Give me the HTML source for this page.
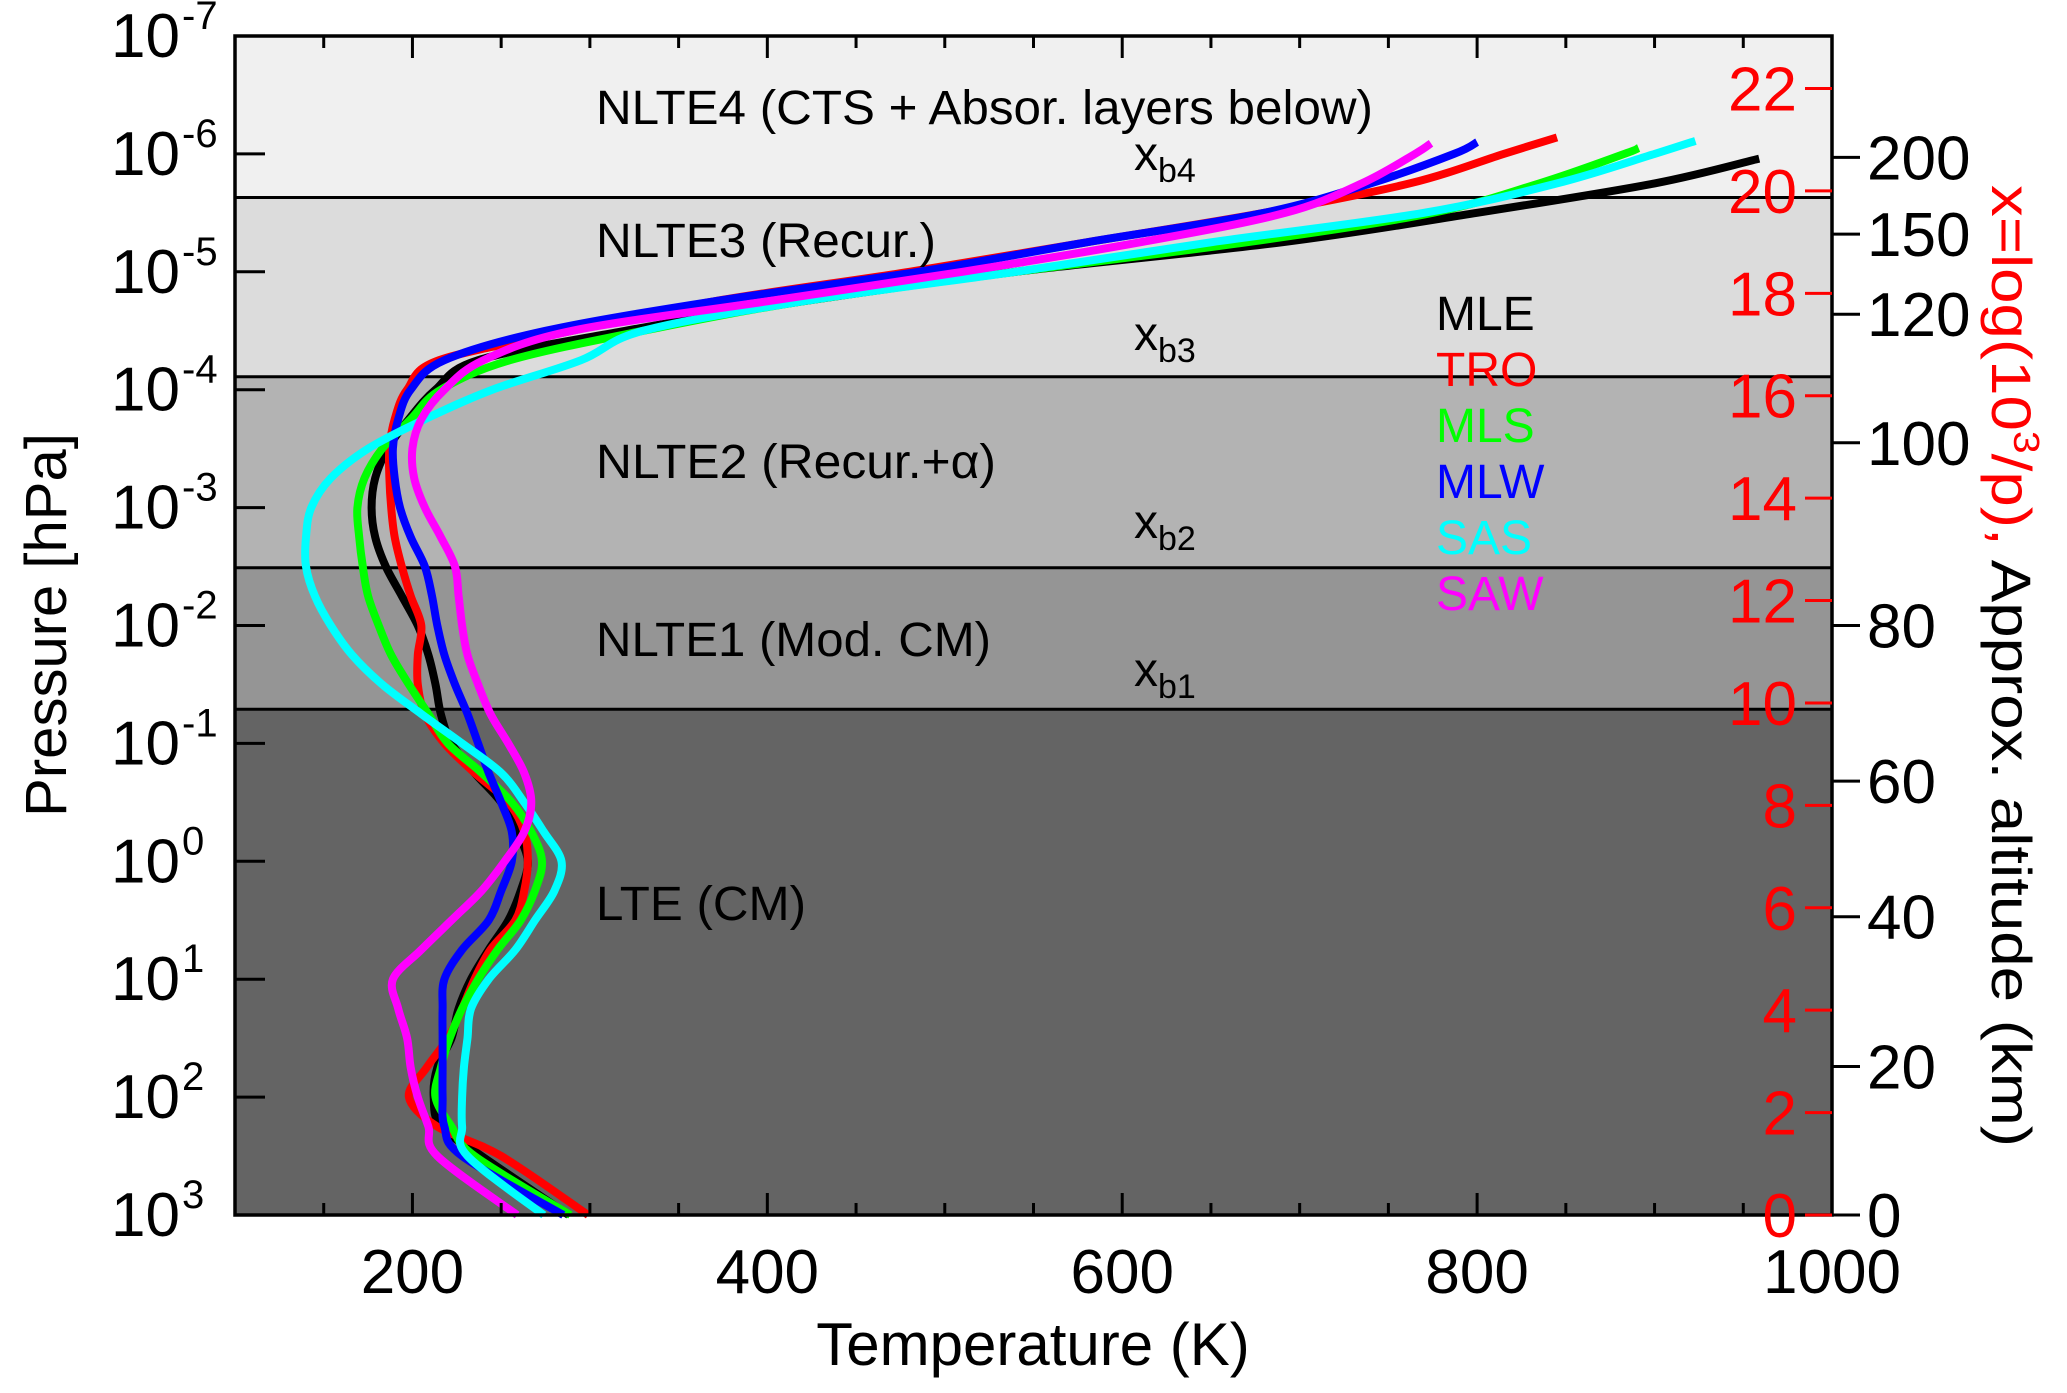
<!DOCTYPE html>
<html><head><meta charset="utf-8"><style>
html,body{margin:0;padding:0;background:#fff;}
svg{display:block;font-family:"Liberation Sans",Arial,sans-serif;}
</style></head><body>
<svg id="chart" width="2067" height="1393" viewBox="0 0 2067 1393" xmlns="http://www.w3.org/2000/svg">
<g id="bands"></g>
<g id="curves"></g>
<g id="axes"></g>
<g id="labels"></g>
</svg>
<script>
// ---- data ----
const levels = [3,2.5,2.25,2,1.75,1.5,1.25,1,0.75,0.5,0.25,0,-0.25,-0.5,-0.75,-1,-1.25,-1.5,-1.75,-2,-2.25,-2.5,-2.75,-3,-3.25,-3.5,-3.75,-4,-4.25,-4.5,-4.75,-5,-5.25,-5.5,-5.75,-6];
const seriesNames = ["MLE","TRO","MLS","MLW","SAS","SAW"];
const seriesColors = ["#000000","#ff0000","#00ff00","#0000ff","#00ffff","#ff00ff"];
const tMLE = [288,239,216,212,214,222,226,233,243,254,261,265,259,250,235,222,216,213,209,203,194,185,179,177,179,186,198,213,237,320,420,540,690,800,900];
const tTRO = [299,250,214,198,208,220,228,235,244,258,263,265,263,254,235,218,207,203,203,205,199,194,190,188,187,187,190,197,215,290,370,480,580,680,762,815];
const tMLS = [289,235,222,213,216,221,228,237,248,261,269,273,267,256,239,220,209,198,188,181,175,172,170,169,173,183,199,216,255,330,420,540,670,775,835,883];
const tMLW = [285,228,218,217,217,217,217,218,228,243,250,256,256,250,243,237,231,224,218,214,211,207,199,193,190,189,192,199,218,275,370,485,580,680,740,787];
const tSAS = [274,231,228,228,229,231,233,243,258,269,280,284,274,263,250,228,205,183,166,154,145,140,140,143,154,175,207,245,295,330,420,540,650,770,845,900];
const tSAW = [259,214,209,203,199,197,192,189,205,222,239,252,263,267,263,254,244,237,231,228,226,224,216,207,201,200,205,218,240,290,400,510,610,692,735,765];
const topLogP = [-5.96,-6.14,-6.05,-6.10,-6.11,-6.09];
const topT = [959,845,891,800,923,774];
const boundaryLogP = [-5.63,-4.11,-2.49,-1.29];
const bandColors = ["#f0f0f0","#dcdcdc","#b3b3b3","#959595","#646464"];
const xTicks = [200,400,600,800,1000];
const yDecades = [-7,-6,-5,-4,-3,-2,-1,0,1,2,3];
const xLogTicks = [0,2,4,6,8,10,12,14,16,18,20,22];
const altTicks = [0,20,40,60,80,100,120,150,200];
const altLogP = [3,1.74,0.47,-0.68,-2.0,-3.55,-4.64,-5.32,-5.97];

// ---- scales ----
const X0=235,X1=1832,Y0=36,Y1=1215;
const TMIN=100,TMAX=1000,PMIN=-7,PMAX=3;
function sx(t){return X0+(t-TMIN)/(TMAX-TMIN)*(X1-X0);}
function sy(lp){return Y0+(lp-PMIN)/(PMAX-PMIN)*(Y1-Y0);}
function sxl(v){return sy(3 - v/Math.LN10);} // x = ln(1e3/p)
const NS="http://www.w3.org/2000/svg";
function mk(tag,attrs,parent){const e=document.createElementNS(NS,tag);for(const k in attrs)e.setAttribute(k,attrs[k]);parent.appendChild(e);return e;}

const bands=document.getElementById('bands');
const curves=document.getElementById('curves');
const axes=document.getElementById('axes');

const edges=[PMIN].concat(boundaryLogP).concat([PMAX]);
const bandNames=["nlte4-band","nlte3-band","nlte2-band","nlte1-band","lte-band"];
for(let i=0;i<5;i++){
  const r=mk('rect',{x:X0,y:sy(edges[i]),width:X1-X0,height:sy(edges[i+1])-sy(edges[i]),fill:bandColors[i]},bands);
  
  
}
boundaryLogP.forEach((lp,i)=>{
  const l=mk('line',{x1:X0,x2:X1,y1:sy(lp),y2:sy(lp),stroke:'#000','stroke-width':3},bands);
  
  
});

const allT=[tMLE,tTRO,tMLS,tMLW,tSAS,tSAW];
function smoothPath(pts){
  let d='M'+pts[0][0].toFixed(1)+','+pts[0][1].toFixed(1);
  for(let i=0;i<pts.length-1;i++){
    const p0=pts[Math.max(0,i-1)],p1=pts[i],p2=pts[i+1],p3=pts[Math.min(pts.length-1,i+2)];
    const c1x=p1[0]+(p2[0]-p0[0])/6,c1y=p1[1]+(p2[1]-p0[1])/6;
    const c2x=p2[0]-(p3[0]-p1[0])/6,c2y=p2[1]-(p3[1]-p1[1])/6;
    d+=' C'+c1x.toFixed(1)+','+c1y.toFixed(1)+' '+c2x.toFixed(1)+','+c2y.toFixed(1)+' '+p2[0].toFixed(1)+','+p2[1].toFixed(1);
  }
  return d;
}
allT.forEach((arr,si)=>{
  const pts=arr.map((t,i)=>[sx(t),sy(levels[i])]);
  pts.push([sx(topT[si]),sy(topLogP[si])]);
  const p=mk('path',{d:smoothPath(pts),fill:'none',stroke:seriesColors[si],'stroke-width':8,'stroke-linejoin':'round'},curves);
  
  
});

const frame=mk('rect',{x:X0,y:Y0,width:X1-X0,height:Y1-Y0,fill:'none',stroke:'#000','stroke-width':3.5},axes);



for(let t=150;t<1000;t+=50){
  const major=(t%200===0);const len=major?22:12;
  mk('line',{x1:sx(t),x2:sx(t),y1:Y1,y2:Y1-len,stroke:'#000','stroke-width':3},axes);
  mk('line',{x1:sx(t),x2:sx(t),y1:Y0,y2:Y0+len,stroke:'#000','stroke-width':3},axes);
}
xTicks.forEach(t=>{
  const tx=mk('text',{x:sx(t),y:1293,'font-size':62,'text-anchor':'middle',fill:'#000'},axes);
  tx.textContent=t;
  
  
});
yDecades.forEach(d=>{
  if(d>PMIN&&d<PMAX) mk('line',{x1:X0,x2:X0+30,y1:sy(d),y2:sy(d),stroke:'#000','stroke-width':3},axes);
  const tx=mk('text',{x:180,y:sy(d)+21,'font-size':62,'text-anchor':'end',fill:'#000'},axes);
  tx.textContent='10';
  
  
  const sp=mk('text',{x:182,y:sy(d)-7,'font-size':40,'text-anchor':'start',fill:'#000'},axes);
  sp.textContent=String(d);
  
  
});
xLogTicks.forEach(v=>{
  const y=sxl(v);
  mk('line',{x1:1805,x2:X1,y1:y,y2:y,stroke:'#ff0000','stroke-width':3},axes);
  const tx=mk('text',{x:1797,y:y+22,'font-size':62,'text-anchor':'end',fill:'#ff0000'},axes);
  tx.textContent=v;
  
  
});
altTicks.forEach((a,i)=>{
  const y=sy(altLogP[i]);
  mk('line',{x1:X1,x2:1860,y1:y,y2:y,stroke:'#000','stroke-width':3},axes);
  const tx=mk('text',{x:1867,y:y+22,'font-size':62,fill:'#000'},axes);
  tx.textContent=a;
  
  
});
</script>
<script>
(function(){
const L=document.getElementById('labels');
L.innerHTML=`
<text x="1033" y="1365" font-size="60" text-anchor="middle">Temperature (K)</text>
<text transform="translate(66,625) rotate(-90)" font-size="58" text-anchor="middle">Pressure [hPa]</text>
<text transform="translate(1992,185) rotate(90)" font-size="56" text-anchor="start" textLength="962" lengthAdjust="spacingAndGlyphs"><tspan fill="#ff0000">x=log(10</tspan><tspan fill="#ff0000" font-size="36" dy="-22">3</tspan><tspan fill="#ff0000" dy="22">/p), </tspan><tspan fill="#000">Approx. altitude (km)</tspan></text>
<text x="596" y="124" font-size="48" textLength="777" lengthAdjust="spacingAndGlyphs">NLTE4 (CTS + Absor. layers below)</text>
<text x="596" y="257" font-size="48" textLength="340" lengthAdjust="spacingAndGlyphs">NLTE3 (Recur.)</text>
<text x="596" y="478" font-size="48" textLength="400" lengthAdjust="spacingAndGlyphs">NLTE2 (Recur.+α)</text>
<text x="596" y="656" font-size="48" textLength="395" lengthAdjust="spacingAndGlyphs">NLTE1 (Mod. CM)</text>
<text x="596" y="920" font-size="48" textLength="210" lengthAdjust="spacingAndGlyphs">LTE (CM)</text>
<text x="1134" y="170" font-size="48">x<tspan font-size="34" dy="12">b4</tspan></text>
<text x="1134" y="350" font-size="48">x<tspan font-size="34" dy="12">b3</tspan></text>
<text x="1134" y="538" font-size="48">x<tspan font-size="34" dy="12">b2</tspan></text>
<text x="1134" y="686" font-size="48">x<tspan font-size="34" dy="12">b1</tspan></text>
<text x="1436" y="330" font-size="48" fill="#000000">MLE</text>
<text x="1436" y="386" font-size="48" fill="#ff0000">TRO</text>
<text x="1436" y="442" font-size="48" fill="#00ff00">MLS</text>
<text x="1436" y="498" font-size="48" fill="#0000ff">MLW</text>
<text x="1436" y="554" font-size="48" fill="#00ffff">SAS</text>
<text x="1436" y="610" font-size="48" fill="#ff00ff">SAW</text>`;
})();
</script>
</body></html>
